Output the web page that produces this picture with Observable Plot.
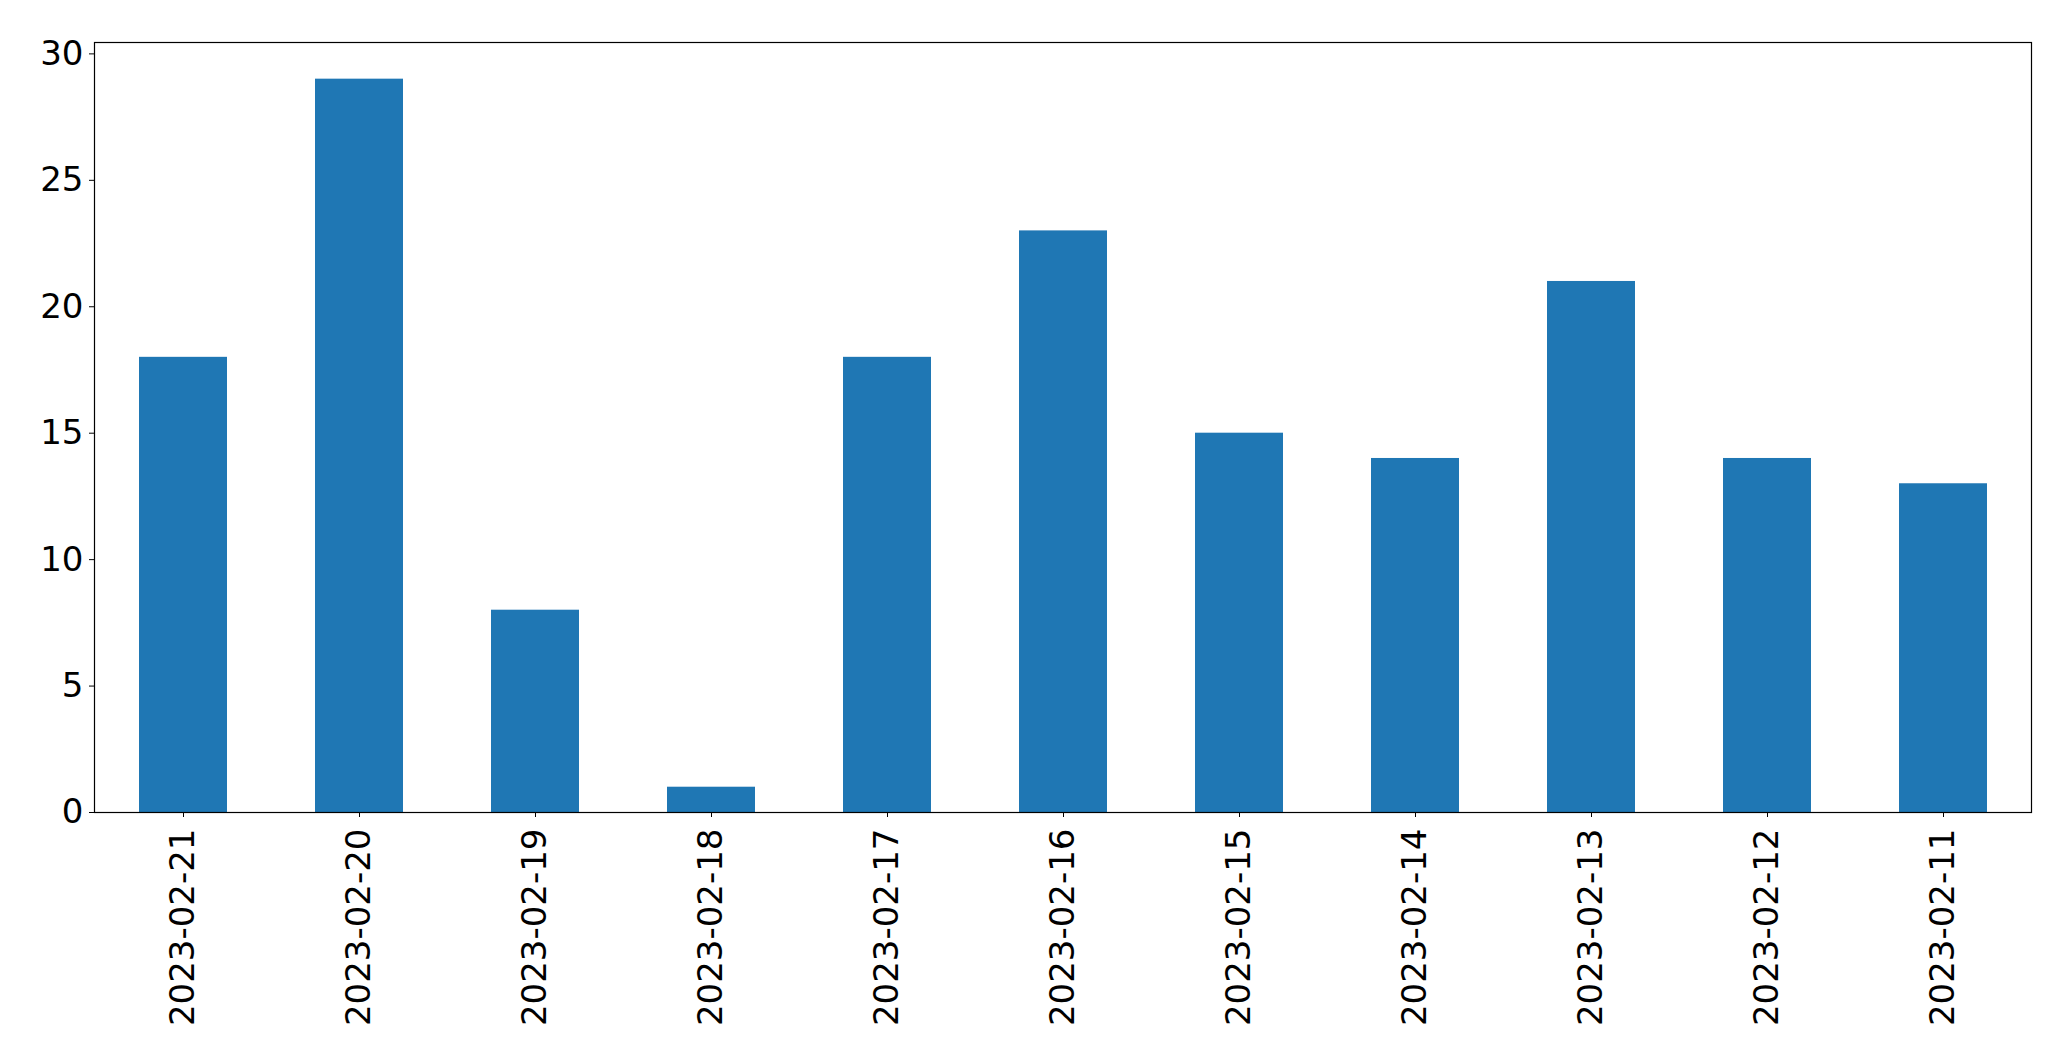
<!DOCTYPE html>
<html>
<head>
<meta charset="utf-8">
<script src="https://cdn.jsdelivr.net/npm/d3@7"></script>
<script src="https://cdn.jsdelivr.net/npm/@observablehq/plot@0.6"></script>
<style>
  html, body { margin: 0; padding: 0; background: #fff; }
  #chart svg { display: block; }
</style>
</head>
<body>
<div id="chart"></div>
<script>
const dates = ["2023-02-21","2023-02-20","2023-02-19","2023-02-18","2023-02-17","2023-02-16","2023-02-15","2023-02-14","2023-02-13","2023-02-12","2023-02-11"];
const counts = [18, 29, 8, 1, 18, 23, 15, 14, 21, 14, 13];
const yTicks = [0, 5, 10, 15, 20, 25, 30];

const data = dates.map((d, i) => ({date: d, count: counts[i]}));

const chart = Plot.plot({
  width: 2071,
  height: 1064,
  marginLeft: 94,
  marginRight: 40,
  marginTop: 42,
  marginBottom: 252,
  style: {fontFamily: "'DejaVu Sans', sans-serif", fontSize: "34px", color: "#000", background: "#fff"},
  x: {domain: dates, paddingInner: 0.5, paddingOuter: 0.25, label: null},
  y: {domain: [0, 30.45], label: null},
  marks: [
    Plot.barY(data, {x: "date", y: "count", fill: "#1f77b4"}),
    Plot.axisY({ticks: yTicks, tickSize: 5, tickPadding: 6, strokeWidth: 1, fontSize: 34, label: null}),
    Plot.axisX({tickSize: 5, tickPadding: 11, tickRotate: -90, strokeWidth: 1, fontSize: 34, label: null}),
    Plot.frame({stroke: "#000", strokeWidth: 1.2})
  ]
});
document.getElementById("chart").appendChild(chart);
</script>
</body>
</html>
